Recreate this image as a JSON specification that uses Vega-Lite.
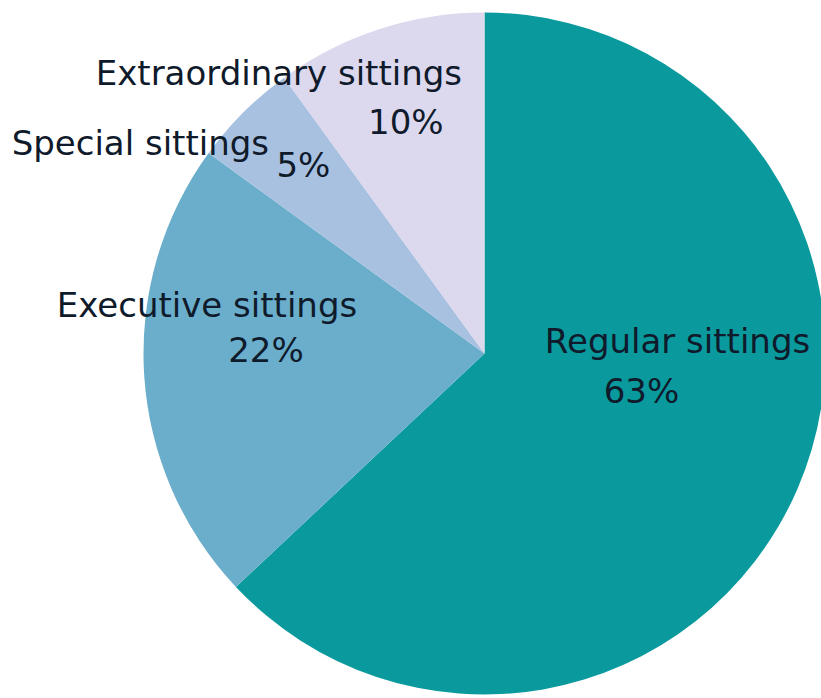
{
  "$schema": "https://vega.github.io/schema/vega-lite/v6.json",
  "width": 673,
  "height": 685,
  "autosize": {"type": "none"},
  "padding": {"left": 148, "top": 11, "right": 0, "bottom": 2},
  "background": "white",
  "view": {"stroke": null},
  "data": {"values": [
    {"category": "Regular sittings", "value": 63, "pct": "63%", "rank": 1},
    {"category": "Executive sittings", "value": 22, "pct": "22%", "rank": 2},
    {"category": "Special sittings", "value": 5, "pct": "5%", "rank": 3},
    {"category": "Extraordinary sittings", "value": 10, "pct": "10%", "rank": 4}
  ]},
  "encoding": {
    "theta": {"field": "value", "type": "quantitative", "stack": true},
    "order": {"field": "rank", "type": "ordinal"}
  },
  "layer": [
    {
      "mark": {"type": "arc", "outerRadius": 341, "stroke": null},
      "encoding": {
        "color": {"field": "category", "type": "nominal", "legend": null,
          "scale": {"domain": ["Regular sittings", "Executive sittings", "Special sittings", "Extraordinary sittings"],
                    "range": ["#0a999c", "#6aaecb", "#a9c1e0", "#dcd8ee"]}}
      }
    },
    {
      "mark": {"type": "text", "radius": 170, "dx": 37, "dy": -68, "font": "DejaVu Sans", "fontSize": 34, "color": "#0f1a2b", "align": "center", "baseline": "alphabetic"},
      "encoding": {"text": {"condition": {"test": "datum.category === 'Regular sittings'", "field": "category"}, "value": ""}}
    },
    {
      "mark": {"type": "text", "radius": 170, "dx": 1, "dy": -18, "font": "DejaVu Sans", "fontSize": 34, "color": "#0f1a2b", "align": "center", "baseline": "alphabetic"},
      "encoding": {"text": {"condition": {"test": "datum.category === 'Regular sittings'", "field": "pct"}, "value": ""}}
    },
    {
      "mark": {"type": "text", "radius": 230, "dx": -48, "dy": -51, "font": "DejaVu Sans", "fontSize": 34, "color": "#0f1a2b", "align": "center", "baseline": "alphabetic"},
      "encoding": {"text": {"condition": {"test": "datum.category === 'Executive sittings'", "field": "category"}, "value": ""}}
    },
    {
      "mark": {"type": "text", "radius": 230, "dx": 11, "dy": -6, "font": "DejaVu Sans", "fontSize": 34, "color": "#0f1a2b", "align": "center", "baseline": "alphabetic"},
      "encoding": {"text": {"condition": {"test": "datum.category === 'Executive sittings'", "field": "pct"}, "value": ""}}
    },
    {
      "mark": {"type": "text", "radius": 300, "dx": -132, "dy": 14, "font": "DejaVu Sans", "fontSize": 34, "color": "#0f1a2b", "align": "center", "baseline": "alphabetic"},
      "encoding": {"text": {"condition": {"test": "datum.category === 'Special sittings'", "field": "category"}, "value": ""}}
    },
    {
      "mark": {"type": "text", "radius": 300, "dx": 31, "dy": 36, "font": "DejaVu Sans", "fontSize": 34, "color": "#0f1a2b", "align": "center", "baseline": "alphabetic"},
      "encoding": {"text": {"condition": {"test": "datum.category === 'Special sittings'", "field": "pct"}, "value": ""}}
    },
    {
      "mark": {"type": "text", "radius": 290, "dx": -116, "dy": 7, "font": "DejaVu Sans", "fontSize": 34, "color": "#0f1a2b", "align": "center", "baseline": "alphabetic"},
      "encoding": {"text": {"condition": {"test": "datum.category === 'Extraordinary sittings'", "field": "category"}, "value": ""}}
    },
    {
      "mark": {"type": "text", "radius": 290, "dx": 11, "dy": 56, "font": "DejaVu Sans", "fontSize": 34, "color": "#0f1a2b", "align": "center", "baseline": "alphabetic"},
      "encoding": {"text": {"condition": {"test": "datum.category === 'Extraordinary sittings'", "field": "pct"}, "value": ""}}
    }
  ]
}
